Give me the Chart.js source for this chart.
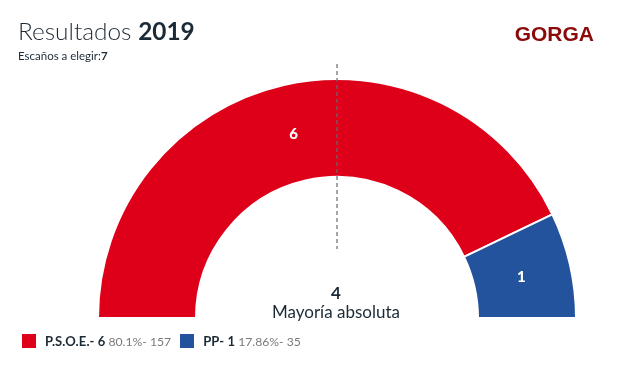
<!DOCTYPE html>
<html>
<head>
<meta charset="utf-8">
<script src="https://cdn.jsdelivr.net/npm/chart.js@4/dist/chart.umd.min.js"></script>
<style>
  html, body { margin: 0; padding: 0; background: #fff; }
  body { width: 623px; height: 366px; position: relative; overflow: hidden; font-family: Lato, "Open Sans", sans-serif; color: #1c2a36; }
  #chart { position: absolute; left: 0; top: 0; }
  .title { position: absolute; left: 18px; top: 16px; font-size: 24.4px; font-weight: 300; }
  .title b { font-weight: 700; }
  .sub { position: absolute; left: 18px; top: 49px; font-size: 11.5px; }
  .sub b { font-weight: 700; }
  .place { position: absolute; right: 29px; top: 22px; font-family: "Liberation Sans", Arial, sans-serif; font-weight: 700; font-size: 21px; color: #8a0a0a; }
  .center { position: absolute; left: 236px; width: 200px; text-align: center; }
  .center .num { position: absolute; top: 282px; width: 200px; font-weight: 700; font-size: 17px; }
  .center .lbl { position: absolute; top: 301px; width: 200px; font-size: 17px; }
  #legend { position: absolute; left: 22px; top: 333px; display: flex; align-items: center; }
  #legend .item { display: flex; align-items: center; margin-right: 9px; }
  #legend .sw { width: 14px; height: 14px; margin-right: 9px; }
  #legend b { font-weight: 700; font-size: 13px; margin-right: 3px; letter-spacing: 0.1px; }
  #legend span.g { color: #7a7a7a; font-size: 12.2px; }
</style>
</head>
<body>
<canvas id="chart" width="623" height="366"></canvas>
<div class="title">Resultados <b>2019</b></div>
<div class="sub">Escaños a elegir:<b>7</b></div>
<div class="place">GORGA</div>
<div class="center">
  <div class="num" id="majority"></div>
  <div class="lbl">Mayoría absoluta</div>
</div>
<div id="legend"></div>
<script>
// Datos
const parties = ['P.S.O.E.', 'PP'];
const seats = [6, 1];
const percents = ['80.1%', '17.86%'];
const votes = [157, 35];
const partyColors = ['#de0019', '#22539c'];
const totalSeats = 7;
const majority = 4;

document.getElementById('majority').textContent = majority;

// Leyenda
const legend = document.getElementById('legend');
parties.forEach((p, i) => {
    legend.innerHTML += `<div class="item"><div class="sw" style="background:${partyColors[i]}"></div>` +
        `<b>${p}- ${seats[i]}</b><span class="g">${percents[i]}- ${votes[i]}</span></div>`;
});

// Etiquetas y línea de mayoría
const hemicyclePlugin = {
    id: 'hemicycle',
    afterDatasetsDraw(chart) {
        const ctx = chart.ctx;
        const meta = chart.getDatasetMeta(0);
        const first = meta.data[0];
        ctx.save();
        ctx.fillStyle = '#fff';
        ctx.font = '900 15px Lato, sans-serif';
        ctx.textAlign = 'center';
        ctx.textBaseline = 'middle';
        meta.data.forEach((arc, i) => {
            const pos = arc.tooltipPosition();
            ctx.fillText(String(seats[i]), pos.x - 1, pos.y + 1);
        });
        // línea discontinua central
        ctx.strokeStyle = '#5f6b76';
        ctx.lineWidth = 1.2;
        ctx.setLineDash([4, 3]);
        ctx.beginPath();
        ctx.moveTo(first.x, first.y - first.outerRadius - 15);
        ctx.lineTo(first.x, first.y - 69);
        ctx.stroke();
        ctx.restore();
    }
};

new Chart(document.getElementById('chart'), {
    type: 'doughnut',
    data: {
        labels: parties,
        datasets: [{
            data: seats,
            backgroundColor: partyColors,
            borderColor: '#fff',
            borderWidth: 2
        }]
    },
    options: {
        responsive: false,
        animation: false,
        rotation: -90,
        circumference: 180,
        cutout: '59%',
        layout: { padding: { left: 97, top: 78, right: 46, bottom: 47 } },
        plugins: { legend: { display: false }, tooltip: { enabled: false } }
    },
    plugins: [hemicyclePlugin]
});
</script>
</body>
</html>
